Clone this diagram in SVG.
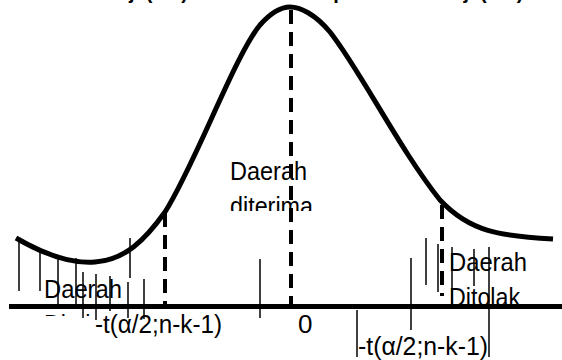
<svg xmlns="http://www.w3.org/2000/svg" width="562" height="360" viewBox="0 0 562 360">
  <style>
    .title { font-family: "Liberation Sans", Arial, sans-serif; font-size: 20px; font-weight: bold; fill: #000; }
    .lbl { font-family: "Liberation Sans", Arial, sans-serif; font-size: 26px; fill: #000; }
    .hatch { stroke: #000; stroke-width: 1.5; fill: none; }
    .dash { stroke: #000; stroke-width: 4; stroke-dasharray: 14 8; fill: none; }
    .curve { stroke: #000; stroke-width: 5; fill: none; }
    .axis { stroke: #000; stroke-width: 5; fill: none; }
  </style>
  <defs>
    <clipPath id="clipCenter"><rect x="200" y="140" width="140" height="71"/></clipPath>
    <clipPath id="clipRight"><rect x="440" y="230" width="122" height="74"/></clipPath>
    <clipPath id="clipLeft"><rect x="30" y="260" width="62" height="56"/></clipPath>
  </defs>

  <g id="title">
    <text class="title" x="188" y="-1" text-anchor="end">Daerah tolak uji (α/2)</text>
    <text class="title" x="260" y="-1">Daerah penerimaan uji (1-α)</text>
  </g>

  <g id="hatching">
    <line class="hatch" x1="19" y1="242" x2="19" y2="291"/>
    <line class="hatch" x1="40" y1="252" x2="40" y2="291"/>
    <line class="hatch" x1="58" y1="258" x2="58" y2="306"/>
    <line class="hatch" x1="76" y1="258" x2="76" y2="306"/>
    <line class="hatch" x1="83" y1="272" x2="83" y2="318"/>
    <line class="hatch" x1="96" y1="274" x2="96" y2="320"/>
    <line class="hatch" x1="110" y1="276" x2="110" y2="311"/>
    <line class="hatch" x1="128" y1="282" x2="128" y2="318"/>
    <line class="hatch" x1="130" y1="238" x2="130" y2="278"/>
    <line class="hatch" x1="144" y1="279" x2="144" y2="319"/>
    <line class="hatch" x1="260" y1="259" x2="260" y2="318"/>
    <line class="hatch" x1="357" y1="310" x2="357" y2="357"/>
    <line class="hatch" x1="411" y1="258" x2="411" y2="330"/>
    <line class="hatch" x1="426" y1="238" x2="426" y2="285"/>
    <line class="hatch" x1="438" y1="244" x2="438" y2="292"/>
    <line class="hatch" x1="452" y1="247" x2="452" y2="304"/>
    <line class="hatch" x1="474" y1="249" x2="474" y2="286"/>
    <line class="hatch" x1="489" y1="247" x2="489" y2="357"/>
  </g>

  <g id="curve">
    <path class="curve" d="M16,238 C40,252 70,264 95,262 C125,260 145,240 165,212 C195,165 235,55 260,25 C275,8 285,7 290,7 C300,7 315,14 330,32 C360,70 400,150 440,200 C470,232 500,236 553,239"/>
  </g>

  <g id="connectors">
    <line class="dash" x1="291" y1="10" x2="291" y2="306"/>
    <line class="dash" x1="165" y1="213" x2="165" y2="306"/>
    <line class="dash" x1="442" y1="205" x2="442" y2="296"/>
  </g>

  <g id="label-accept">
    <text class="lbl" x="230" y="180" textLength="77" lengthAdjust="spacingAndGlyphs">Daerah</text>
    <text class="lbl" x="230" y="215" textLength="83" lengthAdjust="spacingAndGlyphs" clip-path="url(#clipCenter)">diterima</text>
  </g>

  <g id="label-reject-right">
    <text class="lbl" x="449" y="271" textLength="78" lengthAdjust="spacingAndGlyphs">Daerah</text>
    <text class="lbl" x="449" y="306" textLength="71" lengthAdjust="spacingAndGlyphs" clip-path="url(#clipRight)">Ditolak</text>
  </g>

  <g id="label-reject-left">
    <text class="lbl" x="44" y="298" textLength="78" lengthAdjust="spacingAndGlyphs">Daerah</text>
    <text class="lbl" x="44" y="333" textLength="71" lengthAdjust="spacingAndGlyphs" clip-path="url(#clipLeft)">Ditolak</text>
  </g>

  <g id="axis">
    <line class="axis" x1="9" y1="306.5" x2="562" y2="306.5"/>
  </g>

  <g id="axis-labels">
    <text class="lbl" x="95" y="333" textLength="127" lengthAdjust="spacingAndGlyphs">-t(α/2;n-k-1)</text>
    <text class="lbl" x="298" y="333">0</text>
    <text class="lbl" x="358" y="355" textLength="130" lengthAdjust="spacingAndGlyphs">-t(α/2;n-k-1)</text>
  </g>
</svg>
